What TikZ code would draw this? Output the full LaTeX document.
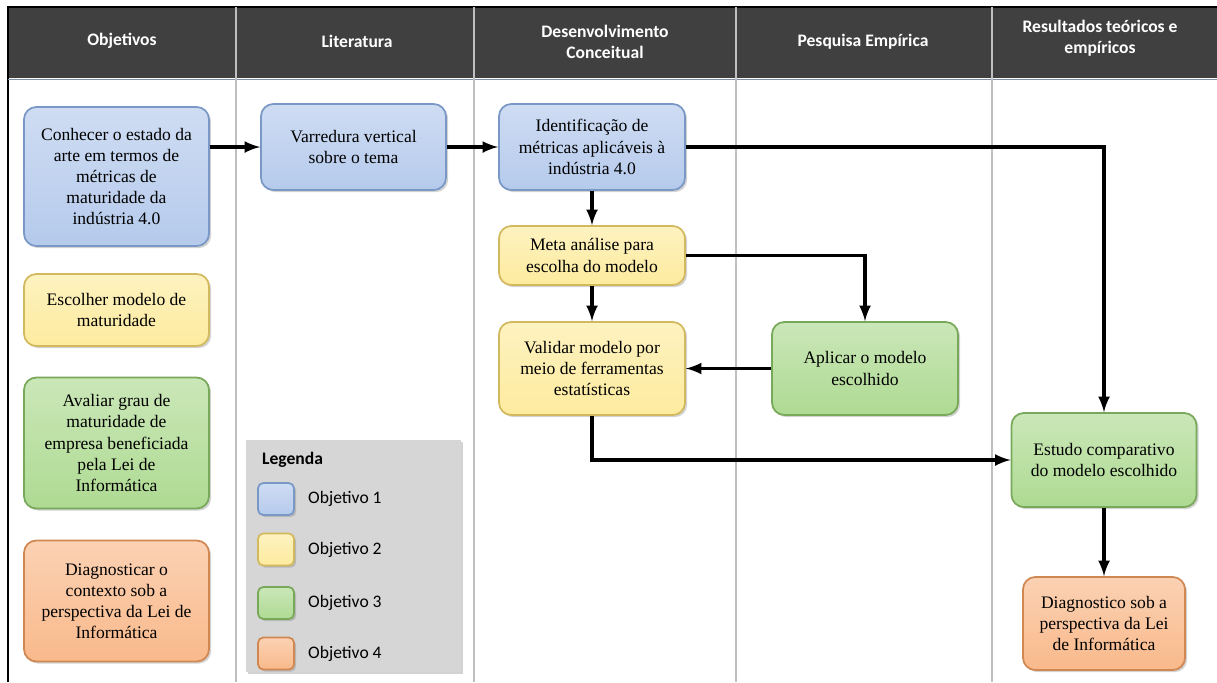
\documentclass[tikz,border=0pt]{standalone}
\usepackage{fontspec}
\setmainfont{Liberation Serif}
\newfontfamily\hdfont{Carlito}
\usepackage{tikz}
\usetikzlibrary{arrows,shadows}

\definecolor{cabgray}{HTML}{404040}
\definecolor{azul}{HTML}{B5CAEC}
\definecolor{azulb}{HTML}{7A98C6}
\definecolor{amarelo}{HTML}{FDEB9E}
\definecolor{amarelob}{HTML}{D2B95E}
\definecolor{verde}{HTML}{AEDA92}
\definecolor{verdeb}{HTML}{78A85A}
\definecolor{laranja}{HTML}{F9B98B}
\definecolor{laranjab}{HTML}{D08752}

\begin{document}
\begin{tikzpicture}[
  caixa/.style={rounded corners=7pt, line width=1pt, align=center,
    font=\fontsize{10}{12}\selectfont,
    drop shadow={shadow xshift=1.2pt,shadow yshift=-1.2pt,opacity=0.35}},
  obj1/.style={caixa, draw=azulb, top color=azul!65!white, bottom color=azul},
  obj2/.style={caixa, draw=amarelob, top color=amarelo!65!white, bottom color=amarelo},
  obj3/.style={caixa, draw=verdeb, top color=verde!65!white, bottom color=verde},
  obj4/.style={caixa, draw=laranjab, top color=laranja!65!white, bottom color=laranja},
  seta/.style={-latex, line width=2pt},
  cab/.style={text=white, align=center, font=\hdfont\bfseries\fontsize{10}{12}\selectfont},
  leg/.style={anchor=west, font=\hdfont\fontsize{10}{12}\selectfont}
]
  \useasboundingbox (0,0) rectangle (24.34,-13.64);

  % header band and the column lines
  \fill [cabgray] (0.16,-0.14) rectangle (24.34,-1.56);
  \draw [black, line width=0.6pt] (0.16,-13.64) -- (0.16,-0.14) -- (24.34,-0.14);
  \draw [azul!70!black, line width=0.5pt] (0.16,-1.58) -- (24.34,-1.58);
  \foreach \x in {4.72,9.48,14.72,19.84}
    \draw [gray!50, line width=0.6pt] (\x,-0.14) -- (\x,-13.64);

  \node [cab] (hobj) at (2.44,-0.82) {Objetivos};
  \node [cab] (hlit) at (7.14,-0.82) {Literatura};
  \node [cab] (hdes) at (12.1,-0.84) {Desenvolvimento\\Conceitual};
  \node [cab] (hpes) at (17.26,-0.84) {Pesquisa Empírica};
  \node [cab] (hres) at (22.0,-0.76) {Resultados teóricos e\\empíricos};

  % objetivos, first column
  \node [obj1, minimum width=3.7cm, minimum height=2.78cm] (conhecer) at (2.33,-3.53)
    {Conhecer o estado da\\arte em termos de\\métricas de\\maturidade da\\indústria 4.0};
  \node [obj2, minimum width=3.7cm, minimum height=1.44cm] (escolher) at (2.33,-6.2)
    {Escolher modelo de\\maturidade};
  \node [obj3, minimum width=3.7cm, minimum height=2.62cm] (avaliar) at (2.33,-8.86)
    {Avaliar grau de\\maturidade de\\empresa beneficiada\\pela Lei de\\Informática};
  \node [obj4, minimum width=3.7cm, minimum height=2.42cm] (diagnosticar) at (2.33,-12.02)
    {Diagnosticar o\\contexto sob a\\perspectiva da Lei de\\Informática};

  % the flow
  \node [obj1, minimum width=3.7cm, minimum height=1.72cm] (varredura) at (7.07,-2.94)
    {Varredura vertical\\sobre o tema};
  \node [obj1, minimum width=3.72cm, minimum height=1.72cm] (identif) at (11.84,-2.94)
    {Identificação de\\métricas aplicáveis à\\indústria 4.0};
  \node [obj2, minimum width=3.72cm, minimum height=1.18cm] (meta) at (11.84,-5.11)
    {Meta análise para\\escolha do modelo};
  \node [obj2, minimum width=3.72cm, minimum height=1.86cm] (validar) at (11.84,-7.37)
    {Validar modelo por\\meio de ferramentas\\estatísticas};
  \node [obj3, minimum width=3.72cm, minimum height=1.86cm] (aplicar) at (17.3,-7.37)
    {Aplicar o modelo\\escolhido};
  \node [obj3, minimum width=3.7cm, minimum height=1.88cm] (estudo) at (22.08,-9.2)
    {Estudo comparativo\\do modelo escolhido};
  \node [obj4, minimum width=3.24cm, minimum height=1.86cm] (diagsob) at (22.08,-12.47)
    {Diagnostico sob a\\perspectiva da Lei\\de Informática};

  \draw [seta] (varredura.west -| conhecer.east) -- (varredura.west);
  \draw [seta] (varredura.east) -- (identif.west);
  \draw [seta] (identif.east) -| (estudo.north); % long way round to the last column
  \draw [seta] (identif.south) -- (meta.north);
  \draw [seta] (meta.east) -| (aplicar.north);
  \draw [seta] (meta.south) -- (validar.north);
  \draw [seta] (aplicar.west) -- (validar.east);
  \draw [seta] (validar.south) |- (estudo.west);
  \draw [seta] (estudo.south) -- (diagsob.north);

  % legend box, swatches then labels
  \fill [gray!32, drop shadow={shadow xshift=1.2pt,shadow yshift=-1.2pt,opacity=0.35}]
    (4.92,-8.8) rectangle (9.22,-13.44);
  \node [leg, font=\hdfont\bfseries\fontsize{10}{12}\selectfont] (legenda) at (5.12,-9.2) {Legenda};
  \node [obj1, rounded corners=3pt, minimum width=0.72cm, minimum height=0.64cm] (sw1) at (5.52,-9.98) {};
  \node [obj2, rounded corners=3pt, minimum width=0.72cm, minimum height=0.64cm] (sw2) at (5.52,-10.99) {};
  \node [obj3, rounded corners=3pt, minimum width=0.72cm, minimum height=0.64cm] (sw3) at (5.52,-12.06) {};
  \node [obj4, rounded corners=3pt, minimum width=0.72cm, minimum height=0.64cm] (sw4) at (5.52,-13.07) {};
  \node [leg] (l1) at (6.04,-9.98) {Objetivo 1};
  \node [leg] (l2) at (6.04,-10.99) {Objetivo 2};
  \node [leg] (l3) at (6.04,-12.06) {Objetivo 3};
  \node [leg] (l4) at (6.04,-13.07) {Objetivo 4};
\end{tikzpicture}
\end{document}
